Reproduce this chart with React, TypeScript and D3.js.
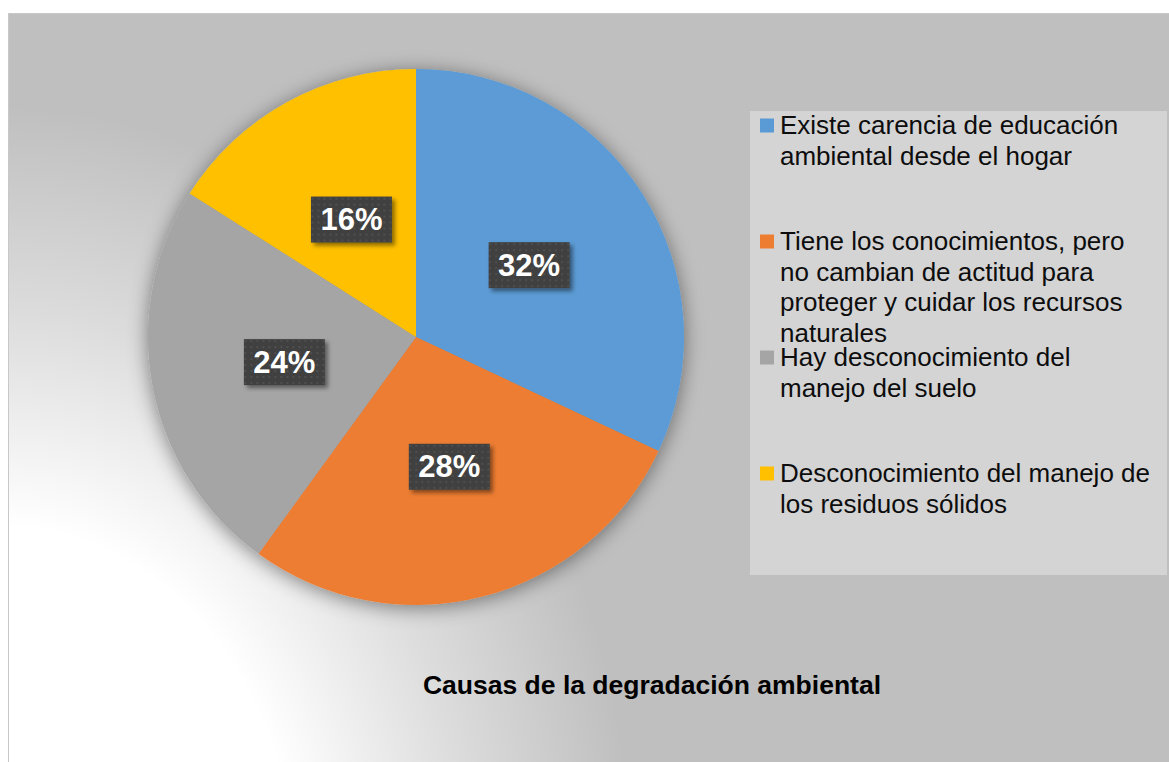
import * as d3 from 'd3'

const categories = [
  'Existe carencia de educación ambiental desde el hogar',
  'Tiene los conocimientos, pero no cambian de actitud para proteger y cuidar los recursos naturales',
  'Hay desconocimiento del manejo del suelo',
  'Desconocimiento del manejo de los residuos sólidos',
]
// legend lines as wrapped in the original
const legendLines = [
  ['Existe carencia de educación', 'ambiental desde el hogar'],
  ['Tiene los conocimientos, pero', 'no cambian de actitud para', 'proteger y cuidar los recursos', 'naturales'],
  ['Hay desconocimiento del', 'manejo del suelo'],
  ['Desconocimiento del manejo de', 'los residuos sólidos'],
]
const values = [32, 28, 24, 16]
const colors = ['#5b9bd5', '#ed7d31', '#a5a5a5', '#ffc000']
const title = 'Causas de la degradación ambiental'

const W = 1169, H = 762
const font = '"Liberation Sans", Arial, sans-serif'

export default function App() {
  const cx = 416, cy = 337, r = 268

  const pie = d3.pie<number>().sort(null).value(d => d)
  const arcs = pie(values)
  const arc = d3.arc<d3.PieArcDatum<number>>().innerRadius(0).outerRadius(r)

  // legend slots spaced evenly
  const legendX = 760
  const slot = d3.scaleLinear().domain([0, 1]).range([134, 250])
  const lineH = 30.5

  return (
    <svg width={W} height={H} style={{ position: 'absolute', left: 0, top: 0 }} fontFamily={font}>
      <defs>
        <radialGradient id="bg" gradientUnits="userSpaceOnUse" cx={0} cy={720} r={635}
          gradientTransform="scale(1,1.25)">
          <stop offset="0.47" stopColor="#ffffff" />
          <stop offset="0.74" stopColor="#dcdcdc" />
          <stop offset="1" stopColor="#bfbfbf" />
        </radialGradient>
        <filter id="pieShadow" x="-20%" y="-20%" width="140%" height="140%">
          <feDropShadow dx="0" dy="3" stdDeviation="10" floodColor="#000" floodOpacity="0.45" />
        </filter>
        <filter id="boxShadow" x="-20%" y="-20%" width="150%" height="150%">
          <feDropShadow dx="3" dy="3" stdDeviation="2" floodColor="#000" floodOpacity="0.45" />
        </filter>
        <pattern id="dots" width="6" height="6" patternUnits="userSpaceOnUse">
          <rect width="6" height="6" fill="#404040" />
          <circle cx="3" cy="3" r="1" fill="#545454" />
        </pattern>
      </defs>

      <rect x={0} y={0} width={W} height={H} fill="#fff" />
      <rect x={8.5} y={13.5} width={W + 10} height={H + 10} fill="url(#bg)" stroke="#c8c8c8" strokeWidth={1} />

      <g transform={`translate(${cx},${cy})`}>
        <g filter="url(#pieShadow)">
          {arcs.map((a, i) => (
            <path key={i} d={arc(a) || ''} fill={colors[i]} />
          ))}
        </g>
        {arcs.map((a, i) => {
          const [lx, ly] = arc.centroid(a)
          return (
            <g key={'l' + i} transform={`translate(${lx},${ly})`}>
              <rect x={-40.5} y={-23} width={81} height={46} fill="url(#dots)" filter="url(#boxShadow)" />
              <text textAnchor="middle" y={10.5} fill="#fff" fontWeight="bold" fontSize={31}>
                {values[i]}%
              </text>
            </g>
          )
        })}
      </g>

      <rect x={750} y={111} width={417} height={464} fill="#d4d4d4" />
      {categories.map((c, i) => {
        const base = slot(i)
        return (
          <g key={c}>
            <rect x={legendX} y={base - 15.5} width={14} height={14} fill={colors[i]} />
            <text x={780} y={base} fontSize={26} fill="#0d0d0d">
              {legendLines[i].map((t, j) => (
                <tspan key={j} x={780} y={base + j * lineH}>{t}</tspan>
              ))}
            </text>
          </g>
        )
      })}

      <text x={652} y={694} textAnchor="middle" fontWeight="bold" fontSize={26.5} fill="#000">
        {title}
      </text>
    </svg>
  )
}
